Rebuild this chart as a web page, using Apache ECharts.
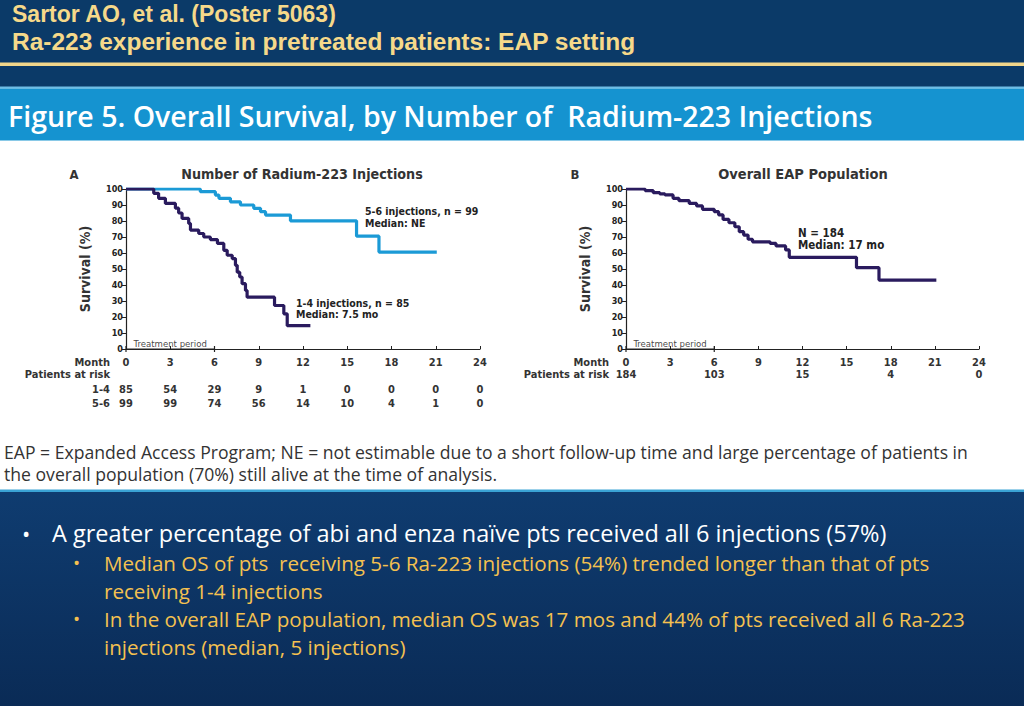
<!DOCTYPE html>
<html><head><meta charset="utf-8">
<script src="https://cdn.jsdelivr.net/npm/echarts@6/dist/echarts.min.js"></script>
<style>html,body{margin:0;padding:0;background:#fff}#c{width:1024px;height:706px}</style>
</head><body><div id="c"></div>
<script>
// ---------------- data ----------------
const months = [0, 3, 6, 9, 12, 15, 18, 21, 24];
// Panel A: Kaplan-Meier steps [month, survival %]
const km14 = [[0,100],[1.88,97.3],[2.21,94.2],[2.67,91],[3.35,88],[3.57,85],[3.8,81.6],[4.25,78.5],[4.37,74.3],[4.93,72.2],[5.27,70],[5.72,68.4],[6.2,66],[6.63,61.7],[6.86,58.6],[7.2,56.5],[7.42,52.3],[7.54,48],[7.71,45],[7.87,40.8],[8.1,36.6],[8.21,32.4],[10.07,27.2],[10.7,22],[10.93,14.6],[12.5,14.6]];
const km56 = [[0,100],[5.04,98.3],[6.06,96.2],[6.3,94.2],[7.08,92],[7.76,90],[8.66,87.9],[9.12,85.8],[9.46,83.7],[11.15,80.1],[15.63,70.5],[17.15,60.6],[21.07,60.6]];
// Panel B
const kmAll = [[0,100],[1.3,99],[1.85,97.7],[2.3,96.9],[2.65,96.3],[3.2,94.2],[3.6,92.7],[4.3,91],[4.8,89.4],[5.2,87.3],[6.0,85.8],[6.3,83.8],[6.6,81],[7.0,78.9],[7.4,76.4],[7.7,73.3],[8.0,71.2],[8.3,68.6],[8.6,67],[9.8,66],[10.2,64.4],[10.85,61.9],[11.1,57.3],[15.67,50.8],[17.2,43.1],[21.1,43.1]];
// numbers at risk
const risk14 = [85, 54, 29, 9, 1, 0, 0, 0, 0];
const risk56 = [99, 99, 74, 56, 14, 10, 4, 1, 0];
const riskAllMonths = [0, 6, 12, 18, 24];
const riskAll = [184, 103, 15, 4, 0];
// treatment period bracket (months)
const treatment = [[0, 0], [6, 0]];
const treatmentLabel = [[3, 0]];

// ---------------- styles ----------------
const NARROW = '"DejaVu Sans Condensed","Liberation Sans Narrow",Roboto,sans-serif';
const SLIDE = '"Open Sans","Noto Sans",sans-serif';
const HEAD = '"Liberation Sans",Arial,sans-serif';
const DARK = '#2a1b5e', LIGHT = '#1b9ad6', INK = '#222';

const chart = echarts.init(document.getElementById('c'), null, {renderer: 'svg'});

function T(x, y, text, font, fill, align) {
  return {type: 'text', z: 20, x: x, y: y,
    style: {text: text, font: font, fill: fill, textAlign: align || 'left', align: align || 'left',
            textVerticalAlign: 'middle', verticalAlign: 'middle'}};
}
function R(x, y, w, h, fill) {
  return {type: 'rect', z: -10, shape: {x: x, y: y, width: w, height: h}, style: {fill: fill}};
}

function mainX(grid) {
  return {gridIndex: grid, type: 'value', min: 0, max: 24, interval: 3, offset: 4,
    axisLine: {show: true, lineStyle: {color: INK, width: 1.2}},
    axisTick: {show: true, inside: true, length: 3, lineStyle: {color: INK}},
    axisLabel: {margin: 4, fontSize: 11, fontWeight: 'bold', color: '#333', fontFamily: NARROW},
    splitLine: {show: false}};
}
function riskX(grid, offset, fmt) {
  return {gridIndex: grid, type: 'value', min: 0, max: 24, interval: 3, position: 'bottom', offset: offset,
    axisLine: {show: false}, axisTick: {show: false}, splitLine: {show: false},
    axisLabel: {margin: 0, fontSize: 11, fontWeight: 'bold', color: '#333', fontFamily: NARROW, formatter: fmt}};
}
function yAx(grid) {
  return {gridIndex: grid, type: 'value', min: 0, max: 100, interval: 10,
    name: 'Survival (%)', nameLocation: 'middle', nameGap: 34, nameRotate: 90,
    nameTextStyle: {fontSize: 14, fontWeight: 'bold', color: '#333', fontFamily: NARROW},
    axisLine: {show: true, lineStyle: {color: INK, width: 1.2}},
    axisTick: {show: true, length: 4, lineStyle: {color: INK}},
    axisLabel: {margin: 3, fontSize: 9, fontWeight: 'bold', color: INK, fontFamily: NARROW},
    splitLine: {show: false}};
}
function bracket(xi, yi) {
  return [{type: 'line', xAxisIndex: xi, yAxisIndex: yi, data: treatment, symbol: 'rect', symbolSize: [1.2, 6],
      itemStyle: {color: INK}, lineStyle: {color: INK, width: 1}, silent: true, z: 3},
    {type: 'scatter', xAxisIndex: xi, yAxisIndex: yi, data: treatmentLabel, symbolSize: 0, silent: true,
      label: {show: true, position: 'top', distance: 1, formatter: 'Treatment period', fontSize: 9.5, color: '#111', fontFamily: NARROW}}];
}

const option = {
  animation: false,
  backgroundColor: '#ffffff',
  grid: [
    {left: 126, top: 189, width: 354, height: 160},
    {left: 626, top: 189, width: 353, height: 160}
  ],
  xAxis: [
    mainX(0),
    riskX(0, 34.5, v => { const i = months.indexOf(v); return i < 0 ? '' : String(risk14[i]); }),
    riskX(0, 48.5, v => { const i = months.indexOf(v); return i < 0 ? '' : String(risk56[i]); }),
    mainX(1),
    riskX(1, 20, v => { const i = riskAllMonths.indexOf(v); return i < 0 ? '' : String(riskAll[i]); })
  ],
  yAxis: [yAx(0), yAx(1)],
  series: [
    {name: '5-6 injections', type: 'line', step: 'end', xAxisIndex: 0, yAxisIndex: 0, data: km56,
      symbol: 'none', lineStyle: {color: LIGHT, width: 3.2}, silent: true, z: 4},
    {name: '1-4 injections', type: 'line', step: 'end', xAxisIndex: 0, yAxisIndex: 0, data: km14,
      symbol: 'none', lineStyle: {color: DARK, width: 3.2}, silent: true, z: 5},
    ...bracket(0, 0),
    {name: 'Overall', type: 'line', step: 'end', xAxisIndex: 3, yAxisIndex: 1, data: kmAll,
      symbol: 'none', lineStyle: {color: DARK, width: 3.2}, silent: true, z: 5},
    ...bracket(3, 1)
  ],
  graphic: [
    // backgrounds
    R(0, 0, 1024, 63, '#0b3a68'),
    R(0, 62.5, 1024, 3.5, '#f2d68a'),
    R(0, 66, 1024, 21, '#0b3a68'),
    R(0, 86.5, 1024, 2, '#6fbde6'),
    R(0, 88.5, 1024, 52, '#1593d0'),
    R(0, 489.5, 1024, 2.5, '#3aa3d5'),
    {type: 'rect', z: -10, shape: {x: 0, y: 492, width: 1024, height: 214},
      style: {fill: new echarts.graphic.LinearGradient(0, 0, 0, 1, [
        {offset: 0, color: '#0f3c70'}, {offset: 1, color: '#0a2b56'}])}},
    // header
    T(12, 13.5, 'Sartor AO, et al. (Poster 5063)', 'bold 23px ' + HEAD, '#f6d98a'),
    T(12, 41, 'Ra-223 experience in pretreated patients: EAP setting', 'bold 24.5px ' + HEAD, '#f6d98a'),
    T(8, 116, 'Figure 5. Overall Survival, by Number of  Radium-223 Injections', '600 28.5px ' + SLIDE, '#ffffff'),
    // panel titles
    T(74, 174, 'A', 'bold 13px ' + NARROW, '#333', 'center'),
    T(302, 174, 'Number of Radium-223 Injections', 'bold 14.2px ' + NARROW, '#333', 'center'),
    T(575, 174, 'B', 'bold 13px ' + NARROW, '#333', 'center'),
    T(803, 174, 'Overall EAP Population', 'bold 14.5px ' + NARROW, '#333', 'center'),
    // annotations
    T(365, 211, '5-6 injections, n = 99', 'bold 10.5px ' + NARROW, INK),
    T(365, 222.5, 'Median: NE', 'bold 10.5px ' + NARROW, INK),
    T(296, 302.5, '1-4 injections, n = 85', 'bold 10.5px ' + NARROW, INK),
    T(296, 314, 'Median: 7.5 mo', 'bold 10.5px ' + NARROW, INK),
    T(798, 233, 'N = 184', 'bold 11.5px ' + NARROW, INK),
    T(798, 245, 'Median: 17 mo', 'bold 11.5px ' + NARROW, INK),
    // risk table row labels
    T(110, 362.5, 'Month', 'bold 11px ' + NARROW, '#333', 'right'),
    T(110, 374.5, 'Patients at risk', 'bold 11px ' + NARROW, '#333', 'right'),
    T(110, 389.5, '1-4', 'bold 11px ' + NARROW, '#333', 'right'),
    T(110, 403, '5-6', 'bold 11px ' + NARROW, '#333', 'right'),
    T(609, 362.5, 'Month', 'bold 11px ' + NARROW, '#333', 'right'),
    T(609, 374.5, 'Patients at risk', 'bold 11px ' + NARROW, '#333', 'right'),
    // footnote
    T(4, 451.5, 'EAP = Expanded Access Program; NE = not estimable due to a short follow-up time and large percentage of patients in', '17.6px ' + SLIDE, '#333'),
    T(4, 473.5, 'the overall population (70%) still alive at the time of analysis.', '17.6px ' + SLIDE, '#333'),
    // bullets
    T(22, 533, '•', '22px ' + SLIDE, '#ffffff'),
    T(52, 533, 'A greater percentage of abi and enza naïve pts received all 6 injections (57%)', '23.5px ' + SLIDE, '#ffffff'),
    T(73, 563, '•', '19px ' + SLIDE, '#f4c150'),
    T(104, 563, 'Median OS of pts  receiving 5-6 Ra-223 injections (54%) trended longer than that of pts', '20.6px ' + SLIDE, '#f4c150'),
    T(104, 591, 'receiving 1-4 injections', '20.6px ' + SLIDE, '#f4c150'),
    T(73, 619, '•', '19px ' + SLIDE, '#f4c150'),
    T(104, 619, 'In the overall EAP population, median OS was 17 mos and 44% of pts received all 6 Ra-223', '20.6px ' + SLIDE, '#f4c150'),
    T(104, 647, 'injections (median, 5 injections)', '20.6px ' + SLIDE, '#f4c150')
  ]
};
chart.setOption(option);
</script>
</body></html>
